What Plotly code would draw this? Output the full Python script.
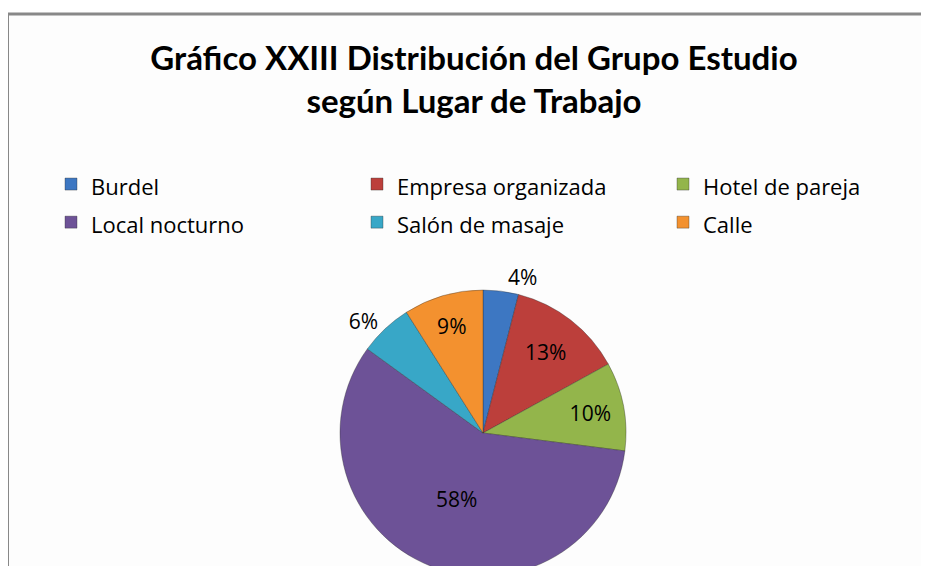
import plotly.graph_objects as go

labels = ["Burdel", "Empresa organizada", "Hotel de pareja", "Local nocturno", "Salón de masaje", "Calle"]
values = [4, 13, 10, 58, 6, 9]
colors = ["#3D77C2", "#BC3F3B", "#93B54B", "#6D5297", "#38A7C7", "#F3912F"]
text_pos = ["outside", "inside", "inside", "inside", "outside", "inside"]

# figure is a bit larger than the 929x566 window so the pie bottom and the
# right border are cut like in the original
W, H = 1000, 590
OFF = 8             # default page body margin in the written html
TFONT = "Lato"
LFONT = "Open Sans"


def px(xs):
    return (xs - OFF) / W


def py(ys):
    return 1 - (ys - OFF) / H


# legend labels: visible text size inside a taller legend row
legend_labels = [f"<span style='font-size:22px'>{l}</span>" for l in labels]

cx, cy, r = 483, 433, 143   # screen coords of the pie centre and its radius

fig = go.Figure(go.Pie(
    labels=legend_labels,
    values=values,
    sort=False,
    direction="clockwise",
    rotation=0,
    marker=dict(colors=colors, line=dict(color="rgba(40,40,40,0.35)", width=1)),
    texttemplate="%{percent:.0%}",
    textposition=text_pos,
    insidetextorientation="horizontal",
    textfont=dict(family=LFONT, size=21, color="#000000"),
    outsidetextfont=dict(family=LFONT, size=21, color="#000000"),
    hovertemplate="%{customdata}: %{percent:.0%}<extra></extra>",
    customdata=labels,
    domain=dict(x=[px(cx - r), px(cx + r)], y=[max(0, py(cy + r)), py(cy - r)]),
    showlegend=True,
))

fig.update_layout(
    width=W, height=H,
    margin=dict(l=0, r=0, t=0, b=0),
    paper_bgcolor="#FFFFFF",
    plot_bgcolor="#FFFFFF",
    title=dict(
        text="Gráfico XXIII Distribución del Grupo Estudio<br>según Lugar de Trabajo",
        x=px(474), xanchor="center",
        y=py(70), yanchor="middle",
        font=dict(family=TFONT, size=33, color="#000000", weight="bold"),
    ),
    legend=dict(
        orientation="h",
        x=px(51), xanchor="left",
        y=py(160), yanchor="top",
        entrywidth=261, entrywidthmode="pixels",
        font=dict(family=LFONT, size=27, color="#000000"),
        traceorder="normal",
        bgcolor="rgba(0,0,0,0)",
    ),
    shapes=[
        dict(type="rect", xref="paper", yref="paper", x0=px(7.5), x1=1.02, y0=-0.02, y1=py(14),
             line=dict(color="#888888", width=3), fillcolor="#FDFDFD", layer="below"),
    ],
)

fig.write_html("out.html")
